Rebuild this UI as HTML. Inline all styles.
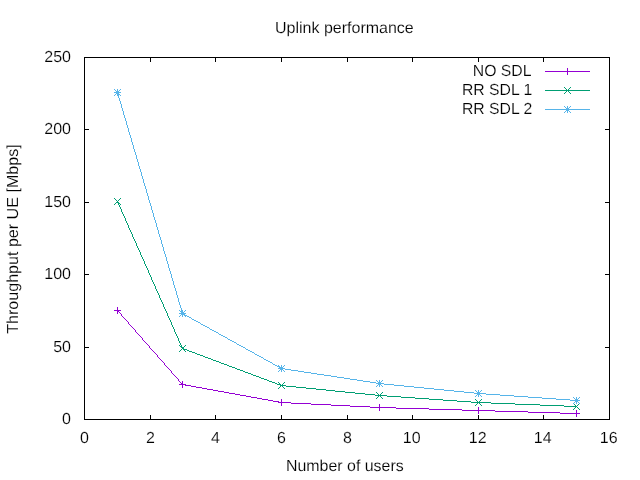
<!DOCTYPE html>
<html lang="en">
<head>
<meta charset="utf-8">
<title>Uplink performance</title>
<style>
html,body{margin:0;padding:0;background:#fff;}
body{width:640px;height:480px;overflow:hidden;}
svg{display:block;}
text{font-family:"Liberation Sans",Arial,Helvetica,sans-serif;font-size:16px;fill:#000;text-rendering:geometricPrecision;stroke:#fff;stroke-width:0.15px;}
.ax{stroke:#000;stroke-width:1;fill:none;shape-rendering:crispEdges;}
.ln{stroke-width:1;fill:none;shape-rendering:crispEdges;}
</style>
</head>
<body>
<svg width="640" height="480" viewBox="0 0 640 480">
<rect x="0" y="0" width="640" height="480" fill="#ffffff"/>
<rect class="ax" x="84.5" y="57.5" width="525" height="362"/>
<g class="ax">
<line x1="150.5" y1="419.5" x2="150.5" y2="415"/><line x1="150.5" y1="57.5" x2="150.5" y2="62"/>
<line x1="215.5" y1="419.5" x2="215.5" y2="415"/><line x1="215.5" y1="57.5" x2="215.5" y2="62"/>
<line x1="281.5" y1="419.5" x2="281.5" y2="415"/><line x1="281.5" y1="57.5" x2="281.5" y2="62"/>
<line x1="347.5" y1="419.5" x2="347.5" y2="415"/><line x1="347.5" y1="57.5" x2="347.5" y2="62"/>
<line x1="412.5" y1="419.5" x2="412.5" y2="415"/><line x1="412.5" y1="57.5" x2="412.5" y2="62"/>
<line x1="478.5" y1="419.5" x2="478.5" y2="415"/><line x1="478.5" y1="57.5" x2="478.5" y2="62"/>
<line x1="543.5" y1="419.5" x2="543.5" y2="415"/><line x1="543.5" y1="57.5" x2="543.5" y2="62"/>
<line x1="84.5" y1="347.5" x2="89" y2="347.5"/><line x1="609.5" y1="347.5" x2="605" y2="347.5"/>
<line x1="84.5" y1="274.5" x2="89" y2="274.5"/><line x1="609.5" y1="274.5" x2="605" y2="274.5"/>
<line x1="84.5" y1="202.5" x2="89" y2="202.5"/><line x1="609.5" y1="202.5" x2="605" y2="202.5"/>
<line x1="84.5" y1="129.5" x2="89" y2="129.5"/><line x1="609.5" y1="129.5" x2="605" y2="129.5"/>
</g>
<g>
<text transform="translate(71,424) scale(1.0,1)" text-anchor="end">0</text>
<text transform="translate(71,352) scale(1.0,1)" text-anchor="end">50</text>
<text transform="translate(71,279) scale(1.0,1)" text-anchor="end">100</text>
<text transform="translate(71,207) scale(1.0,1)" text-anchor="end">150</text>
<text transform="translate(71,134) scale(1.0,1)" text-anchor="end">200</text>
<text transform="translate(71,62) scale(1.0,1)" text-anchor="end">250</text>
</g>
<g>
<text transform="translate(84.5,443) scale(1.0,1)" text-anchor="middle">0</text>
<text transform="translate(150.5,443) scale(1.0,1)" text-anchor="middle">2</text>
<text transform="translate(215.5,443) scale(1.0,1)" text-anchor="middle">4</text>
<text transform="translate(281.5,443) scale(1.0,1)" text-anchor="middle">6</text>
<text transform="translate(347.5,443) scale(1.0,1)" text-anchor="middle">8</text>
<text transform="translate(411.75,443) scale(1.0,1)" text-anchor="middle">10</text>
<text transform="translate(477.75,443) scale(1.0,1)" text-anchor="middle">12</text>
<text transform="translate(542.75,443) scale(1.0,1)" text-anchor="middle">14</text>
<text transform="translate(608.75,443) scale(1.0,1)" text-anchor="middle">16</text>
</g>
<text transform="translate(275,33) scale(1.0,1)">Uplink performance</text>
<text transform="translate(286,471) scale(0.995,1)">Number of users</text>
<text transform="translate(18,333.8) rotate(-90) scale(1.005,1)">Throughput per UE [Mbps]</text>
<g>
<text transform="translate(531.5,76) scale(0.985,1)" text-anchor="end">NO SDL</text>
<line class="ln" stroke="#9400d3" x1="545" y1="71.5" x2="590" y2="71.5"/>
<g shape-rendering="crispEdges"><rect x="564" y="71" width="7" height="1" fill="#9400d3"/><rect x="567" y="68" width="1" height="7" fill="#9400d3"/></g>
<path shape-rendering="crispEdges" fill="#9400d3" d="M117,310h1v1h-1zM118,311h1v1h-1zM119,312h1v1h-1zM120,313h1v1h-1zM121,314h1v2h-1zM122,316h1v1h-1zM123,317h1v1h-1zM124,318h1v1h-1zM125,319h1v1h-1zM126,320h1v1h-1zM127,321h1v1h-1zM128,322h1v2h-1zM129,324h1v1h-1zM130,325h1v1h-1zM131,326h1v1h-1zM132,327h1v1h-1zM133,328h1v1h-1zM134,329h1v1h-1zM135,330h1v2h-1zM136,332h1v1h-1zM137,333h1v1h-1zM138,334h1v1h-1zM139,335h1v1h-1zM140,336h1v1h-1zM141,337h1v1h-1zM142,338h1v2h-1zM143,340h1v1h-1zM144,341h1v1h-1zM145,342h1v1h-1zM146,343h1v1h-1zM147,344h1v1h-1zM148,345h1v1h-1zM149,346h1v2h-1zM150,348h1v1h-1zM151,349h1v1h-1zM152,350h1v1h-1zM153,351h1v1h-1zM154,352h1v1h-1zM155,353h1v1h-1zM156,354h1v1h-1zM157,355h1v2h-1zM158,357h1v1h-1zM159,358h1v1h-1zM160,359h1v1h-1zM161,360h1v1h-1zM162,361h1v1h-1zM163,362h1v1h-1zM164,363h1v2h-1zM165,365h1v1h-1zM166,366h1v1h-1zM167,367h1v1h-1zM168,368h1v1h-1zM169,369h1v1h-1zM170,370h1v1h-1zM171,371h1v2h-1zM172,373h1v1h-1zM173,374h1v1h-1zM174,375h1v1h-1zM175,376h1v1h-1zM176,377h1v1h-1zM177,378h1v1h-1zM178,379h1v2h-1zM179,381h1v1h-1zM180,382h1v1h-1zM181,383h1v1h-1zM182,384h3v1h-3zM185,385h6v1h-6zM191,386h5v1h-5zM196,387h6v1h-6zM202,388h5v1h-5zM207,389h6v1h-6zM213,390h5v1h-5zM218,391h6v1h-6zM224,392h5v1h-5zM229,393h6v1h-6zM235,394h5v1h-5zM240,395h6v1h-6zM246,396h5v1h-5zM251,397h6v1h-6zM257,398h5v1h-5zM262,399h6v1h-6zM268,400h5v1h-5zM273,401h6v1h-6zM279,402h12v1h-12zM291,403h20v1h-20zM311,404h20v1h-20zM331,405h19v1h-19zM350,406h20v1h-20zM370,407h26v1h-26zM396,408h33v1h-33zM429,409h33v1h-33zM462,410h33v1h-33zM495,411h33v1h-33zM528,412h32v1h-32zM560,413h17v1h-17z"/>
<g shape-rendering="crispEdges"><rect x="114" y="310" width="7" height="1" fill="#9400d3"/><rect x="117" y="307" width="1" height="7" fill="#9400d3"/><rect x="179" y="384" width="7" height="1" fill="#9400d3"/><rect x="182" y="381" width="1" height="7" fill="#9400d3"/><rect x="278" y="402" width="7" height="1" fill="#9400d3"/><rect x="281" y="399" width="1" height="7" fill="#9400d3"/><rect x="376" y="407" width="7" height="1" fill="#9400d3"/><rect x="379" y="404" width="1" height="7" fill="#9400d3"/><rect x="475" y="410" width="7" height="1" fill="#9400d3"/><rect x="478" y="407" width="1" height="7" fill="#9400d3"/><rect x="573" y="413" width="7" height="1" fill="#9400d3"/><rect x="576" y="410" width="1" height="7" fill="#9400d3"/></g>
</g>
<g>
<text transform="translate(532.3,95) scale(0.985,1)" text-anchor="end">RR SDL 1</text>
<line class="ln" stroke="#009e73" x1="545" y1="90.5" x2="590" y2="90.5"/>
<g shape-rendering="crispEdges"><rect x="564" y="87" width="1" height="1" fill="#009e73"/><rect x="564" y="93" width="1" height="1" fill="#009e73"/><rect x="565" y="88" width="1" height="1" fill="#009e73"/><rect x="565" y="92" width="1" height="1" fill="#009e73"/><rect x="566" y="89" width="1" height="1" fill="#009e73"/><rect x="566" y="91" width="1" height="1" fill="#009e73"/><rect x="567" y="90" width="1" height="1" fill="#009e73"/><rect x="568" y="91" width="1" height="1" fill="#009e73"/><rect x="568" y="89" width="1" height="1" fill="#009e73"/><rect x="569" y="92" width="1" height="1" fill="#009e73"/><rect x="569" y="88" width="1" height="1" fill="#009e73"/><rect x="570" y="93" width="1" height="1" fill="#009e73"/><rect x="570" y="87" width="1" height="1" fill="#009e73"/></g>
<path shape-rendering="crispEdges" fill="#009e73" d="M117,201h1v2h-1zM118,203h1v2h-1zM119,205h1v2h-1zM120,207h1v2h-1zM121,209h1v3h-1zM122,212h1v2h-1zM123,214h1v2h-1zM124,216h1v2h-1zM125,218h1v3h-1zM126,221h1v2h-1zM127,223h1v2h-1zM128,225h1v3h-1zM129,228h1v2h-1zM130,230h1v2h-1zM131,232h1v2h-1zM132,234h1v3h-1zM133,237h1v2h-1zM134,239h1v2h-1zM135,241h1v2h-1zM136,243h1v3h-1zM137,246h1v2h-1zM138,248h1v2h-1zM139,250h1v2h-1zM140,252h1v3h-1zM141,255h1v2h-1zM142,257h1v2h-1zM143,259h1v2h-1zM144,261h1v3h-1zM145,264h1v2h-1zM146,266h1v2h-1zM147,268h1v2h-1zM148,270h1v3h-1zM149,273h1v2h-1zM150,275h1v2h-1zM151,277h1v3h-1zM152,280h1v2h-1zM153,282h1v2h-1zM154,284h1v2h-1zM155,286h1v3h-1zM156,289h1v2h-1zM157,291h1v2h-1zM158,293h1v2h-1zM159,295h1v3h-1zM160,298h1v2h-1zM161,300h1v2h-1zM162,302h1v2h-1zM163,304h1v3h-1zM164,307h1v2h-1zM165,309h1v2h-1zM166,311h1v2h-1zM167,313h1v3h-1zM168,316h1v2h-1zM169,318h1v2h-1zM170,320h1v2h-1zM171,322h1v3h-1zM172,325h1v2h-1zM173,327h1v2h-1zM174,329h1v3h-1zM175,332h1v2h-1zM176,334h1v2h-1zM177,336h1v2h-1zM178,338h1v3h-1zM179,341h1v2h-1zM180,343h1v2h-1zM181,345h1v2h-1zM182,347h1v1h-1zM182,348h2v1h-2zM184,349h3v1h-3zM187,350h2v1h-2zM189,351h3v1h-3zM192,352h3v1h-3zM195,353h2v1h-2zM197,354h3v1h-3zM200,355h3v1h-3zM203,356h2v1h-2zM205,357h3v1h-3zM208,358h3v1h-3zM211,359h2v1h-2zM213,360h3v1h-3zM216,361h3v1h-3zM219,362h2v1h-2zM221,363h3v1h-3zM224,364h3v1h-3zM227,365h2v1h-2zM229,366h3v1h-3zM232,367h3v1h-3zM235,368h2v1h-2zM237,369h3v1h-3zM240,370h3v1h-3zM243,371h2v1h-2zM245,372h3v1h-3zM248,373h3v1h-3zM251,374h2v1h-2zM253,375h3v1h-3zM256,376h3v1h-3zM259,377h2v1h-2zM261,378h3v1h-3zM264,379h3v1h-3zM267,380h2v1h-2zM269,381h3v1h-3zM272,382h3v1h-3zM275,383h2v1h-2zM277,384h3v1h-3zM280,385h6v1h-6zM286,386h10v1h-10zM296,387h10v1h-10zM306,388h10v1h-10zM316,389h10v1h-10zM326,390h9v1h-9zM335,391h10v1h-10zM345,392h10v1h-10zM355,393h10v1h-10zM365,394h10v1h-10zM375,395h12v1h-12zM387,396h14v1h-14zM401,397h14v1h-14zM415,398h14v1h-14zM429,399h14v1h-14zM443,400h14v1h-14zM457,401h14v1h-14zM471,402h20v1h-20zM491,403h24v1h-24zM515,404h25v1h-25zM540,405h24v1h-24zM564,406h13v1h-13z"/>
<g shape-rendering="crispEdges"><rect x="114" y="198" width="1" height="1" fill="#009e73"/><rect x="114" y="204" width="1" height="1" fill="#009e73"/><rect x="115" y="199" width="1" height="1" fill="#009e73"/><rect x="115" y="203" width="1" height="1" fill="#009e73"/><rect x="116" y="200" width="1" height="1" fill="#009e73"/><rect x="116" y="202" width="1" height="1" fill="#009e73"/><rect x="117" y="201" width="1" height="1" fill="#009e73"/><rect x="118" y="202" width="1" height="1" fill="#009e73"/><rect x="118" y="200" width="1" height="1" fill="#009e73"/><rect x="119" y="203" width="1" height="1" fill="#009e73"/><rect x="119" y="199" width="1" height="1" fill="#009e73"/><rect x="120" y="204" width="1" height="1" fill="#009e73"/><rect x="120" y="198" width="1" height="1" fill="#009e73"/><rect x="179" y="345" width="1" height="1" fill="#009e73"/><rect x="179" y="351" width="1" height="1" fill="#009e73"/><rect x="180" y="346" width="1" height="1" fill="#009e73"/><rect x="180" y="350" width="1" height="1" fill="#009e73"/><rect x="181" y="347" width="1" height="1" fill="#009e73"/><rect x="181" y="349" width="1" height="1" fill="#009e73"/><rect x="182" y="348" width="1" height="1" fill="#009e73"/><rect x="183" y="349" width="1" height="1" fill="#009e73"/><rect x="183" y="347" width="1" height="1" fill="#009e73"/><rect x="184" y="350" width="1" height="1" fill="#009e73"/><rect x="184" y="346" width="1" height="1" fill="#009e73"/><rect x="185" y="351" width="1" height="1" fill="#009e73"/><rect x="185" y="345" width="1" height="1" fill="#009e73"/><rect x="278" y="382" width="1" height="1" fill="#009e73"/><rect x="278" y="388" width="1" height="1" fill="#009e73"/><rect x="279" y="383" width="1" height="1" fill="#009e73"/><rect x="279" y="387" width="1" height="1" fill="#009e73"/><rect x="280" y="384" width="1" height="1" fill="#009e73"/><rect x="280" y="386" width="1" height="1" fill="#009e73"/><rect x="281" y="385" width="1" height="1" fill="#009e73"/><rect x="282" y="386" width="1" height="1" fill="#009e73"/><rect x="282" y="384" width="1" height="1" fill="#009e73"/><rect x="283" y="387" width="1" height="1" fill="#009e73"/><rect x="283" y="383" width="1" height="1" fill="#009e73"/><rect x="284" y="388" width="1" height="1" fill="#009e73"/><rect x="284" y="382" width="1" height="1" fill="#009e73"/><rect x="376" y="392" width="1" height="1" fill="#009e73"/><rect x="376" y="398" width="1" height="1" fill="#009e73"/><rect x="377" y="393" width="1" height="1" fill="#009e73"/><rect x="377" y="397" width="1" height="1" fill="#009e73"/><rect x="378" y="394" width="1" height="1" fill="#009e73"/><rect x="378" y="396" width="1" height="1" fill="#009e73"/><rect x="379" y="395" width="1" height="1" fill="#009e73"/><rect x="380" y="396" width="1" height="1" fill="#009e73"/><rect x="380" y="394" width="1" height="1" fill="#009e73"/><rect x="381" y="397" width="1" height="1" fill="#009e73"/><rect x="381" y="393" width="1" height="1" fill="#009e73"/><rect x="382" y="398" width="1" height="1" fill="#009e73"/><rect x="382" y="392" width="1" height="1" fill="#009e73"/><rect x="475" y="399" width="1" height="1" fill="#009e73"/><rect x="475" y="405" width="1" height="1" fill="#009e73"/><rect x="476" y="400" width="1" height="1" fill="#009e73"/><rect x="476" y="404" width="1" height="1" fill="#009e73"/><rect x="477" y="401" width="1" height="1" fill="#009e73"/><rect x="477" y="403" width="1" height="1" fill="#009e73"/><rect x="478" y="402" width="1" height="1" fill="#009e73"/><rect x="479" y="403" width="1" height="1" fill="#009e73"/><rect x="479" y="401" width="1" height="1" fill="#009e73"/><rect x="480" y="404" width="1" height="1" fill="#009e73"/><rect x="480" y="400" width="1" height="1" fill="#009e73"/><rect x="481" y="405" width="1" height="1" fill="#009e73"/><rect x="481" y="399" width="1" height="1" fill="#009e73"/><rect x="573" y="403" width="1" height="1" fill="#009e73"/><rect x="573" y="409" width="1" height="1" fill="#009e73"/><rect x="574" y="404" width="1" height="1" fill="#009e73"/><rect x="574" y="408" width="1" height="1" fill="#009e73"/><rect x="575" y="405" width="1" height="1" fill="#009e73"/><rect x="575" y="407" width="1" height="1" fill="#009e73"/><rect x="576" y="406" width="1" height="1" fill="#009e73"/><rect x="577" y="407" width="1" height="1" fill="#009e73"/><rect x="577" y="405" width="1" height="1" fill="#009e73"/><rect x="578" y="408" width="1" height="1" fill="#009e73"/><rect x="578" y="404" width="1" height="1" fill="#009e73"/><rect x="579" y="409" width="1" height="1" fill="#009e73"/><rect x="579" y="403" width="1" height="1" fill="#009e73"/></g>
</g>
<g>
<text transform="translate(532.3,114) scale(0.985,1)" text-anchor="end">RR SDL 2</text>
<line class="ln" stroke="#56b4e9" x1="545" y1="109.5" x2="590" y2="109.5"/>
<g shape-rendering="crispEdges"><rect x="564" y="109" width="7" height="1" fill="#56b4e9"/><rect x="567" y="106" width="1" height="7" fill="#56b4e9"/><rect x="564" y="106" width="1" height="1" fill="#56b4e9"/><rect x="564" y="112" width="1" height="1" fill="#56b4e9"/><rect x="565" y="107" width="1" height="1" fill="#56b4e9"/><rect x="565" y="111" width="1" height="1" fill="#56b4e9"/><rect x="566" y="108" width="1" height="1" fill="#56b4e9"/><rect x="566" y="110" width="1" height="1" fill="#56b4e9"/><rect x="568" y="110" width="1" height="1" fill="#56b4e9"/><rect x="568" y="108" width="1" height="1" fill="#56b4e9"/><rect x="569" y="111" width="1" height="1" fill="#56b4e9"/><rect x="569" y="107" width="1" height="1" fill="#56b4e9"/><rect x="570" y="112" width="1" height="1" fill="#56b4e9"/><rect x="570" y="106" width="1" height="1" fill="#56b4e9"/></g>
<path shape-rendering="crispEdges" fill="#56b4e9" d="M117,92h1v2h-1zM118,94h1v4h-1zM119,98h1v3h-1zM120,101h1v3h-1zM121,104h1v4h-1zM122,108h1v3h-1zM123,111h1v4h-1zM124,115h1v3h-1zM125,118h1v3h-1zM126,121h1v4h-1zM127,125h1v3h-1zM128,128h1v4h-1zM129,132h1v3h-1zM130,135h1v3h-1zM131,138h1v4h-1zM132,142h1v3h-1zM133,145h1v4h-1zM134,149h1v3h-1zM135,152h1v3h-1zM136,155h1v4h-1zM137,159h1v3h-1zM138,162h1v4h-1zM139,166h1v3h-1zM140,169h1v3h-1zM141,172h1v4h-1zM142,176h1v3h-1zM143,179h1v4h-1zM144,183h1v3h-1zM145,186h1v3h-1zM146,189h1v4h-1zM147,193h1v3h-1zM148,196h1v4h-1zM149,200h1v3h-1zM150,203h1v3h-1zM151,206h1v4h-1zM152,210h1v3h-1zM153,213h1v4h-1zM154,217h1v3h-1zM155,220h1v3h-1zM156,223h1v4h-1zM157,227h1v3h-1zM158,230h1v4h-1zM159,234h1v3h-1zM160,237h1v3h-1zM161,240h1v4h-1zM162,244h1v3h-1zM163,247h1v4h-1zM164,251h1v3h-1zM165,254h1v3h-1zM166,257h1v4h-1zM167,261h1v3h-1zM168,264h1v4h-1zM169,268h1v3h-1zM170,271h1v3h-1zM171,274h1v4h-1zM172,278h1v3h-1zM173,281h1v4h-1zM174,285h1v3h-1zM175,288h1v3h-1zM176,291h1v4h-1zM177,295h1v3h-1zM178,298h1v4h-1zM179,302h1v3h-1zM180,305h1v3h-1zM181,308h1v4h-1zM182,312h1v2h-1zM183,314h2v1h-2zM185,315h2v1h-2zM187,316h2v1h-2zM189,317h2v1h-2zM191,318h1v1h-1zM192,319h2v1h-2zM194,320h2v1h-2zM196,321h2v1h-2zM198,322h2v1h-2zM200,323h1v1h-1zM201,324h2v1h-2zM203,325h2v1h-2zM205,326h2v1h-2zM207,327h2v1h-2zM209,328h1v1h-1zM210,329h2v1h-2zM212,330h2v1h-2zM214,331h2v1h-2zM216,332h2v1h-2zM218,333h1v1h-1zM219,334h2v1h-2zM221,335h2v1h-2zM223,336h2v1h-2zM225,337h2v1h-2zM227,338h1v1h-1zM228,339h2v1h-2zM230,340h2v1h-2zM232,341h2v1h-2zM234,342h2v1h-2zM236,343h1v1h-1zM237,344h2v1h-2zM239,345h2v1h-2zM241,346h2v1h-2zM243,347h2v1h-2zM245,348h1v1h-1zM246,349h2v1h-2zM248,350h2v1h-2zM250,351h2v1h-2zM252,352h2v1h-2zM254,353h1v1h-1zM255,354h2v1h-2zM257,355h2v1h-2zM259,356h2v1h-2zM261,357h2v1h-2zM263,358h1v1h-1zM264,359h2v1h-2zM266,360h2v1h-2zM268,361h2v1h-2zM270,362h2v1h-2zM272,363h1v1h-1zM273,364h2v1h-2zM275,365h2v1h-2zM277,366h2v1h-2zM279,367h2v1h-2zM281,368h4v1h-4zM285,369h6v1h-6zM291,370h7v1h-7zM298,371h6v1h-6zM304,372h7v1h-7zM311,373h6v1h-6zM317,374h7v1h-7zM324,375h7v1h-7zM331,376h6v1h-6zM337,377h7v1h-7zM344,378h6v1h-6zM350,379h7v1h-7zM357,380h6v1h-6zM363,381h7v1h-7zM370,382h6v1h-6zM376,383h8v1h-8zM384,384h10v1h-10zM394,385h10v1h-10zM404,386h10v1h-10zM414,387h10v1h-10zM424,388h10v1h-10zM434,389h10v1h-10zM444,390h10v1h-10zM454,391h10v1h-10zM464,392h10v1h-10zM474,393h12v1h-12zM486,394h14v1h-14zM500,395h14v1h-14zM514,396h14v1h-14zM528,397h14v1h-14zM542,398h14v1h-14zM556,399h14v1h-14zM570,400h7v1h-7z"/>
<g shape-rendering="crispEdges"><rect x="114" y="92" width="7" height="1" fill="#56b4e9"/><rect x="117" y="89" width="1" height="7" fill="#56b4e9"/><rect x="114" y="89" width="1" height="1" fill="#56b4e9"/><rect x="114" y="95" width="1" height="1" fill="#56b4e9"/><rect x="115" y="90" width="1" height="1" fill="#56b4e9"/><rect x="115" y="94" width="1" height="1" fill="#56b4e9"/><rect x="116" y="91" width="1" height="1" fill="#56b4e9"/><rect x="116" y="93" width="1" height="1" fill="#56b4e9"/><rect x="118" y="93" width="1" height="1" fill="#56b4e9"/><rect x="118" y="91" width="1" height="1" fill="#56b4e9"/><rect x="119" y="94" width="1" height="1" fill="#56b4e9"/><rect x="119" y="90" width="1" height="1" fill="#56b4e9"/><rect x="120" y="95" width="1" height="1" fill="#56b4e9"/><rect x="120" y="89" width="1" height="1" fill="#56b4e9"/><rect x="179" y="313" width="7" height="1" fill="#56b4e9"/><rect x="182" y="310" width="1" height="7" fill="#56b4e9"/><rect x="179" y="310" width="1" height="1" fill="#56b4e9"/><rect x="179" y="316" width="1" height="1" fill="#56b4e9"/><rect x="180" y="311" width="1" height="1" fill="#56b4e9"/><rect x="180" y="315" width="1" height="1" fill="#56b4e9"/><rect x="181" y="312" width="1" height="1" fill="#56b4e9"/><rect x="181" y="314" width="1" height="1" fill="#56b4e9"/><rect x="183" y="314" width="1" height="1" fill="#56b4e9"/><rect x="183" y="312" width="1" height="1" fill="#56b4e9"/><rect x="184" y="315" width="1" height="1" fill="#56b4e9"/><rect x="184" y="311" width="1" height="1" fill="#56b4e9"/><rect x="185" y="316" width="1" height="1" fill="#56b4e9"/><rect x="185" y="310" width="1" height="1" fill="#56b4e9"/><rect x="278" y="368" width="7" height="1" fill="#56b4e9"/><rect x="281" y="365" width="1" height="7" fill="#56b4e9"/><rect x="278" y="365" width="1" height="1" fill="#56b4e9"/><rect x="278" y="371" width="1" height="1" fill="#56b4e9"/><rect x="279" y="366" width="1" height="1" fill="#56b4e9"/><rect x="279" y="370" width="1" height="1" fill="#56b4e9"/><rect x="280" y="367" width="1" height="1" fill="#56b4e9"/><rect x="280" y="369" width="1" height="1" fill="#56b4e9"/><rect x="282" y="369" width="1" height="1" fill="#56b4e9"/><rect x="282" y="367" width="1" height="1" fill="#56b4e9"/><rect x="283" y="370" width="1" height="1" fill="#56b4e9"/><rect x="283" y="366" width="1" height="1" fill="#56b4e9"/><rect x="284" y="371" width="1" height="1" fill="#56b4e9"/><rect x="284" y="365" width="1" height="1" fill="#56b4e9"/><rect x="376" y="383" width="7" height="1" fill="#56b4e9"/><rect x="379" y="380" width="1" height="7" fill="#56b4e9"/><rect x="376" y="380" width="1" height="1" fill="#56b4e9"/><rect x="376" y="386" width="1" height="1" fill="#56b4e9"/><rect x="377" y="381" width="1" height="1" fill="#56b4e9"/><rect x="377" y="385" width="1" height="1" fill="#56b4e9"/><rect x="378" y="382" width="1" height="1" fill="#56b4e9"/><rect x="378" y="384" width="1" height="1" fill="#56b4e9"/><rect x="380" y="384" width="1" height="1" fill="#56b4e9"/><rect x="380" y="382" width="1" height="1" fill="#56b4e9"/><rect x="381" y="385" width="1" height="1" fill="#56b4e9"/><rect x="381" y="381" width="1" height="1" fill="#56b4e9"/><rect x="382" y="386" width="1" height="1" fill="#56b4e9"/><rect x="382" y="380" width="1" height="1" fill="#56b4e9"/><rect x="475" y="393" width="7" height="1" fill="#56b4e9"/><rect x="478" y="390" width="1" height="7" fill="#56b4e9"/><rect x="475" y="390" width="1" height="1" fill="#56b4e9"/><rect x="475" y="396" width="1" height="1" fill="#56b4e9"/><rect x="476" y="391" width="1" height="1" fill="#56b4e9"/><rect x="476" y="395" width="1" height="1" fill="#56b4e9"/><rect x="477" y="392" width="1" height="1" fill="#56b4e9"/><rect x="477" y="394" width="1" height="1" fill="#56b4e9"/><rect x="479" y="394" width="1" height="1" fill="#56b4e9"/><rect x="479" y="392" width="1" height="1" fill="#56b4e9"/><rect x="480" y="395" width="1" height="1" fill="#56b4e9"/><rect x="480" y="391" width="1" height="1" fill="#56b4e9"/><rect x="481" y="396" width="1" height="1" fill="#56b4e9"/><rect x="481" y="390" width="1" height="1" fill="#56b4e9"/><rect x="573" y="400" width="7" height="1" fill="#56b4e9"/><rect x="576" y="397" width="1" height="7" fill="#56b4e9"/><rect x="573" y="397" width="1" height="1" fill="#56b4e9"/><rect x="573" y="403" width="1" height="1" fill="#56b4e9"/><rect x="574" y="398" width="1" height="1" fill="#56b4e9"/><rect x="574" y="402" width="1" height="1" fill="#56b4e9"/><rect x="575" y="399" width="1" height="1" fill="#56b4e9"/><rect x="575" y="401" width="1" height="1" fill="#56b4e9"/><rect x="577" y="401" width="1" height="1" fill="#56b4e9"/><rect x="577" y="399" width="1" height="1" fill="#56b4e9"/><rect x="578" y="402" width="1" height="1" fill="#56b4e9"/><rect x="578" y="398" width="1" height="1" fill="#56b4e9"/><rect x="579" y="403" width="1" height="1" fill="#56b4e9"/><rect x="579" y="397" width="1" height="1" fill="#56b4e9"/></g>
</g>
</svg>
</body>
</html>
